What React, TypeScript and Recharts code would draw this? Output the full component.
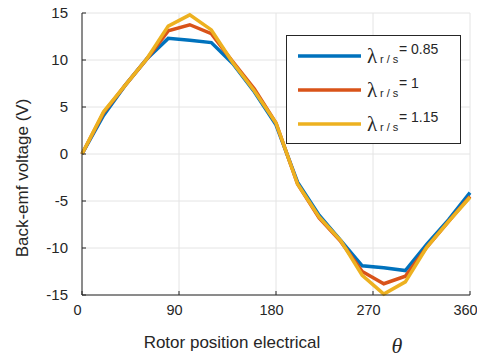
import React from 'react';
import { LineChart, Line, XAxis, YAxis, CartesianGrid, Legend, Label } from 'recharts';

const angles = [0, 20, 40, 60, 80, 100, 120, 140, 160, 180, 200, 220, 240, 260, 280, 300, 320, 340, 360];
const emf085 = [0, 4.1, 7.3, 10.1, 12.3, 12.1, 11.85, 9.6, 6.6, 3.1, -3.0, -6.5, -9.2, -11.9, -12.1, -12.4, -9.6, -7.0, -4.1];
const emf100 = [0, 4.4, 7.3, 10.1, 13.1, 13.75, 12.8, 9.8, 6.9, 3.3, -3.2, -6.8, -9.3, -12.5, -13.8, -13.0, -9.9, -7.2, -4.5];
const emf115 = [0, 4.5, 7.3, 10.1, 13.6, 14.8, 13.2, 9.7, 6.7, 3.3, -3.2, -6.7, -9.2, -12.9, -14.9, -13.6, -9.9, -7.2, -4.6];

const xTicks = [0, 90, 180, 270, 360];
const yTicks = [-15, -10, -5, 0, 5, 10, 15];

const seriesKeys = ['s085', 's100', 's115'];
const seriesValues = ['0.85', '1', '1.15'];
const seriesColors = ['#0072BD', '#D95319', '#EDB120'];

const xLabel = 'Rotor position electrical';
const xSymbol = 'θ';
const yLabel = 'Back-emf voltage (V)';

const data = angles.map((a, i) => ({ angle: a, s085: emf085[i], s100: emf100[i], s115: emf115[i] }));

const FONT = '"Liberation Sans", Arial, Helvetica, sans-serif';
const TXT = '#262626';

const LegendBox = () => (
  <svg width={176} height={110} style={{ display: 'block' }}>
    <rect x={0.5} y={0.5} width={174} height={108} fill="#ffffff" stroke="#262626" strokeWidth={1} />
    {seriesKeys.map((k, i) => {
      const ly = 21 + i * 34;
      return (
        <g key={k}>
          <line x1={12} x2={75} y1={ly} y2={ly} stroke={seriesColors[i]} strokeWidth={3.5} />
          <text x={81} y={ly + 6.5} fontFamily='"Liberation Serif", "Times New Roman", serif' fontSize={21} fill={TXT}>λ</text>
          <text x={94} y={ly + 7} fontFamily={FONT} fontSize={11} fill={TXT}>r / s</text>
          <text x={113} y={ly - 2} fontFamily={FONT} fontSize={14} fill={TXT}>= {seriesValues[i]}</text>
        </g>
      );
    })}
  </svg>
);

const XLabelContent = (props: any) => {
  const vb = props.viewBox || {};
  const cx = vb.x + vb.width / 2;
  const by = vb.y + vb.height;
  return (
    <g>
      <text x={cx - 44} y={by - 10} textAnchor="middle" fontFamily={FONT} fontSize={17} fill={TXT}>{xLabel}</text>
      <text x={cx + 121} y={by - 5} textAnchor="middle" fontFamily='"Liberation Serif", "Times New Roman", serif' fontStyle="italic" fontSize={22} fill={TXT}>{xSymbol}</text>
    </g>
  );
};

const YLabelContent = (props: any) => {
  const vb = props.viewBox || {};
  const x = 28;
  const y = vb.y + vb.height / 2 + 24;
  return (
    <text x={x} y={y} transform={`rotate(-90, ${x}, ${y})`} textAnchor="middle" fontFamily={FONT} fontSize={17} fill={TXT}>{yLabel}</text>
  );
};

export default function App() {
  return (
    <div style={{ position: 'absolute', left: 0, top: 0, width: 477, height: 358, background: '#ffffff' }}>
      <LineChart width={477} height={358} data={data} margin={{ top: 13, right: 7, bottom: 0, left: 0 }}>
        <CartesianGrid stroke="#e4e4e4" strokeWidth={1} horizontalValues={yTicks} verticalValues={xTicks} />
        <XAxis
          dataKey="angle"
          type="number"
          domain={[0, 360]}
          ticks={xTicks}
          height={63}
          tickSize={-4}
          tickMargin={14}
          stroke={TXT}
          tick={{ fill: TXT, fontSize: 14.5, fontFamily: FONT, dx: -4.5 }}
          interval={0}
        >
          <Label content={XLabelContent} />
        </XAxis>
        <XAxis xAxisId="top" orientation="top" dataKey="angle" type="number" domain={[0, 360]} ticks={xTicks} height={0} tickSize={-4} tick={false} stroke={TXT} />
        <YAxis
          type="number"
          domain={[-15, 15]}
          ticks={yTicks}
          width={82}
          tickSize={-4}
          tickMargin={18}
          stroke={TXT}
          tick={{ fill: TXT, fontSize: 15, fontFamily: FONT }}
          interval={0}
        >
          <Label content={YLabelContent} />
        </YAxis>
        <YAxis yAxisId="right" orientation="right" type="number" domain={[-15, 15]} ticks={yTicks} width={0} tickSize={-4} tick={false} stroke={TXT} />
        <Legend
          layout="horizontal"
          verticalAlign="middle"
          align="center"
          wrapperStyle={{ position: 'absolute', left: 286, top: 35, width: 176, height: 110 }}
          content={() => <LegendBox />}
        />
        {seriesKeys.map((k, i) => (
          <Line key={k} type="linear" dataKey={k} stroke={seriesColors[i]} strokeWidth={3.5} dot={false} activeDot={false} isAnimationActive={false} />
        ))}
      </LineChart>
    </div>
  );
}
